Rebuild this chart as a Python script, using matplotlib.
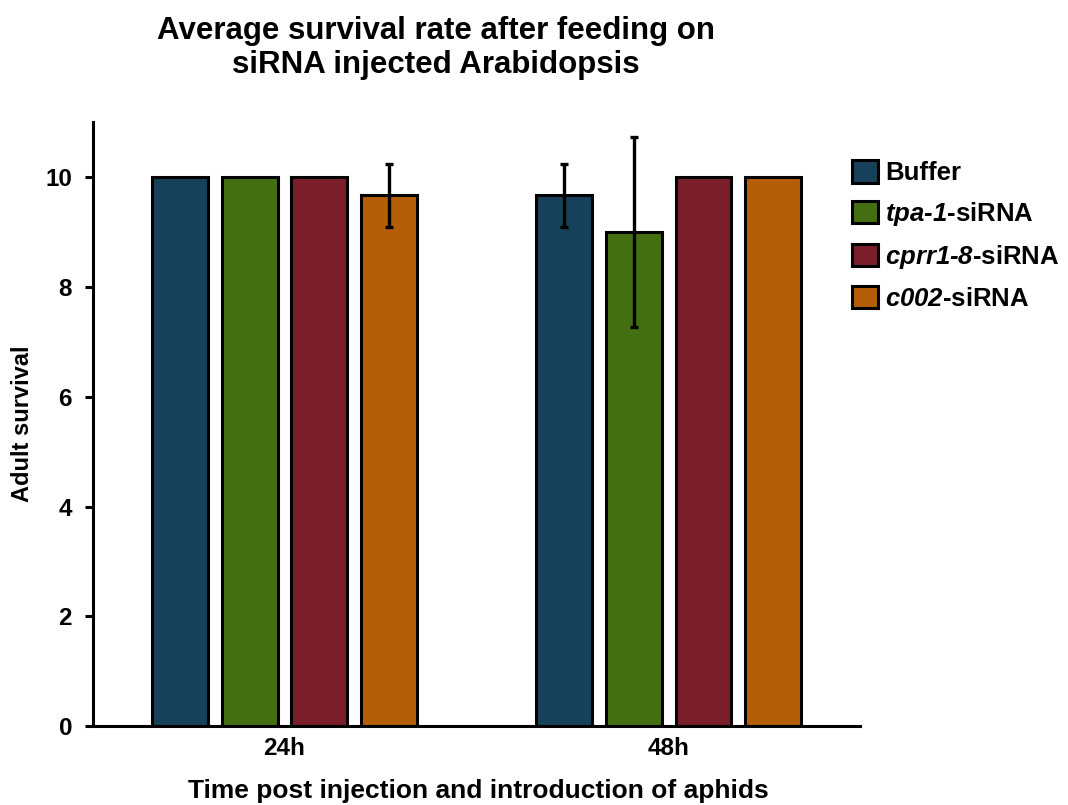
import numpy as np
import matplotlib
matplotlib.use('Agg')
import matplotlib.pyplot as plt

plt.rcParams['font.family'] = ['Liberation Sans', 'DejaVu Sans']
plt.rcParams['font.weight'] = 'bold'
plt.rcParams['mathtext.fontset'] = 'custom'
plt.rcParams['mathtext.it'] = 'Liberation Sans:italic:bold'
plt.rcParams['mathtext.rm'] = 'Liberation Sans:italic:bold'

groups = ['24h', '48h']
labels = ['Buffer',
          '$tpa\u20101$-siRNA',
          '$cprr1\u20108$-siRNA',
          '$c002$-siRNA']
means = [[10.0, 9.67],   # Buffer
         [10.0, 9.0],    # tpa-1
         [10.0, 10.0],   # cprr1-8
         [9.67, 10.0]]   # c002
errs = [[0.0, 0.58],
        [0.0, 1.73],
        [0.0, 0.0],
        [0.58, 0.0]]
colors = ['#17415a', '#446e12', '#7a1f2a', '#b45f08']

x = np.arange(len(groups))
step = 0.181
width = 0.1456

fig = plt.figure(figsize=[10.68, 8.05], dpi=100)
ax = fig.add_axes([0.087, 0.098, 0.718, 0.750])

for i in range(len(labels)):
    xpos = x + (i - 1.5) * step
    ax.bar(xpos, means[i], width=width, color=colors[i], edgecolor='k',
           linewidth=2.2, label=labels[i], zorder=2)
    for j in range(len(groups)):
        if errs[i][j] > 0:
            ax.errorbar(xpos[j], means[i][j], yerr=errs[i][j], fmt='none',
                        ecolor='k', elinewidth=2.4, capsize=3, capthick=2.4,
                        zorder=3)

ax.set_xlim(-0.498, 1.497)
ax.set_ylim(0, 11)
ax.set_yticks([0, 2, 4, 6, 8, 10])
ax.set_xticks(x)
ax.set_xticklabels(groups)
for s in ['top', 'right']:
    ax.spines[s].set_visible(False)
for s in ['left', 'bottom']:
    ax.spines[s].set_linewidth(2.2)
ax.tick_params(axis='y', labelsize=17.5, width=2.2, length=6, pad=9)
ax.tick_params(axis='x', labelsize=17.5, length=0, pad=8)

ax.set_ylabel('Adult survival', fontsize=17, fontweight='bold', labelpad=8)
fig.text(0.448, 0.002, 'Time post injection and introduction of aphids',
         fontsize=19, fontweight='bold', ha='center', va='bottom')
fig.text(0.408, 0.90, 'Average survival rate after feeding on\nsiRNA injected Arabidopsis',
         fontsize=22.5, fontweight='bold', ha='center', va='bottom', linespacing=1.18)

ax.legend(loc='upper left', bbox_to_anchor=(0.99, 0.937), frameon=False,
          fontsize=18.5, handlelength=1.0, handleheight=0.95, handletextpad=0.3,
          labelspacing=0.58, borderpad=0, borderaxespad=0)

plt.savefig('out.png', dpi=100)
